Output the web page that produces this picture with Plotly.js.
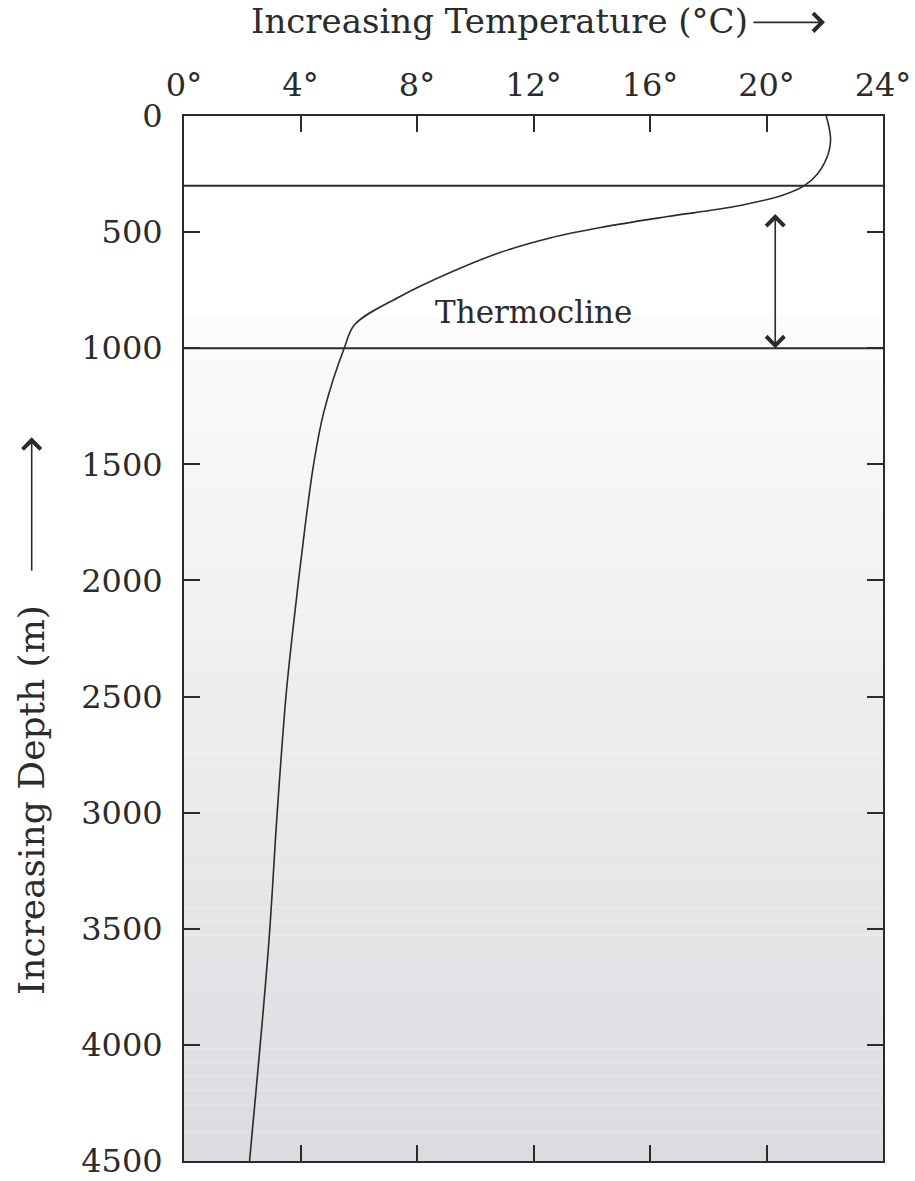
<!DOCTYPE html>
<html>
<head>
<meta charset="utf-8">
<script src="https://cdn.plot.ly/plotly-3.0.1.min.js"></script>
<style>
  html, body { margin: 0; padding: 0; background: #ffffff; }
  #chart { width: 915px; height: 1181px; }
</style>
</head>
<body>
<div id="chart"></div>
<script>
// ---- data ----
const depths = [0, 50, 100, 150, 200, 250, 300, 339, 390, 433, 480, 524, 588, 674, 777, 897, 1000, 1275, 1500, 1775, 2200, 2500, 3000, 3580, 4500];
const temps  = [22.05, 22.15, 22.2, 22.15, 22.0, 21.75, 21.3, 20.6, 18.9, 16.6, 14.3, 12.6, 10.85, 9.14, 7.42, 5.87, 5.5, 4.8, 4.45, 4.15, 3.75, 3.5, 3.2, 2.9, 2.25];

const tempTicks = [0, 4, 8, 12, 16, 20, 24];
const tempTickText = ['0°', '4°', '8°', '12°', '16°', '20°', '24°'];
const depthTicks = [0, 500, 1000, 1500, 2000, 2500, 3000, 3500, 4000, 4500];
const layerBounds = [300, 1000];           // horizontal boundary lines
const thermoclineArrow = {temp: 20.3, top: 416, bottom: 1000};
const thermoclineLabel = {temp: 12.0, depth: 845, text: 'Thermocline'};

const xTitle = 'Increasing Temperature (°C)';
const yTitle = 'Increasing Depth (m)';

// ---- styling ----
const INK = '#2b2b2b';
const FONT = 'DejaVu Serif, Liberation Serif, serif';
const X_RANGE = [0, 24];
const Y_MAX = 4500;
const GRAD_START = 860, GRAD_STEPS = 60;

function lerp(a, b, t) { return Math.round(a + (b - a) * t); }
const shapes = [];
// background gradient (white -> light grey) below the thermocline
for (let i = 0; i < GRAD_STEPS; i++) {
  const y0 = GRAD_START + (Y_MAX - GRAD_START) * i / GRAD_STEPS;
  const y1 = GRAD_START + (Y_MAX - GRAD_START) * (i + 1) / GRAD_STEPS;
  const t = (i + 0.5) / GRAD_STEPS;
  const c = `rgb(${lerp(252, 219, t)},${lerp(252, 220, t)},${lerp(252, 223, t)})`;
  shapes.push({type: 'rect', xref: 'x', yref: 'y', x0: X_RANGE[0], x1: X_RANGE[1], y0: y0, y1: y1,
    fillcolor: c, line: {width: 0}, layer: 'below'});
}
layerBounds.forEach(d => shapes.push({type: 'line', xref: 'paper', yref: 'y', x0: 0, x1: 1, y0: d, y1: d,
  line: {color: INK, width: 2}}));

const traces = [{
  x: temps, y: depths, type: 'scatter', mode: 'lines',
  line: {color: INK, width: 1.6, shape: 'spline', smoothing: 1},
  hoverinfo: 'skip', showlegend: false
}];

const annotations = [
  {xref: 'paper', yref: 'paper', x: 0.452, y: 1.0905, xanchor: 'center', yanchor: 'middle',
   text: xTitle, showarrow: false, font: {family: FONT, size: 34, color: INK}},
  {xref: 'paper', yref: 'paper', x: 0.917, y: 1.0896, ax: -73, ay: 0, text: '', showarrow: true,
   arrowhead: 4, arrowsize: 2.2, arrowwidth: 1.6, arrowcolor: INK},
  {xref: 'paper', yref: 'paper', x: -0.2175, y: 0.3455, xanchor: 'center', yanchor: 'middle', textangle: -90,
   text: yTitle, showarrow: false, font: {family: FONT, size: 36, color: INK}},
  {xref: 'paper', yref: 'paper', x: -0.2179, y: 0.6925, ax: 0, ay: 135, text: '', showarrow: true,
   arrowhead: 4, arrowsize: 2.2, arrowwidth: 1.6, arrowcolor: INK},
  {xref: 'x', yref: 'y', x: thermoclineArrow.temp, y: thermoclineArrow.bottom,
   axref: 'x', ayref: 'y', ax: thermoclineArrow.temp, ay: thermoclineArrow.top,
   text: '', showarrow: true, arrowside: 'end+start', arrowhead: 4, startarrowhead: 4,
   arrowsize: 2.2, startarrowsize: 2.2, arrowwidth: 1.6, arrowcolor: INK, standoff: 0, startstandoff: 0},
  {xref: 'x', yref: 'y', x: thermoclineLabel.temp, y: thermoclineLabel.depth, text: thermoclineLabel.text,
   showarrow: false, xanchor: 'center', yanchor: 'middle', font: {family: FONT, size: 31, color: INK}}
];

const layout = {
  width: 915, height: 1181,
  margin: {l: 184, r: 32, t: 116, b: 20, pad: 0},
  paper_bgcolor: '#ffffff', plot_bgcolor: '#ffffff',
  font: {family: FONT, color: INK},
  showlegend: false,
  xaxis: {
    range: X_RANGE, side: 'top', tickmode: 'array', tickvals: tempTicks, ticktext: tempTickText,
    ticks: 'inside', ticklen: 16, tickwidth: 2, tickcolor: INK,
    showline: true, linecolor: INK, linewidth: 2, mirror: 'ticks',
    showgrid: false, zeroline: false, fixedrange: true, ticklabeloverflow: 'allow',
    tickfont: {family: FONT, size: 32, color: INK}, ticklabelstandoff: 5
  },
  yaxis: {
    range: [Y_MAX, 0], tickmode: 'array', tickvals: depthTicks,
    ticks: 'inside', ticklen: 16, tickwidth: 2, tickcolor: INK,
    showline: true, linecolor: INK, linewidth: 2, mirror: 'ticks',
    showgrid: false, zeroline: false, fixedrange: true, ticklabeloverflow: 'allow',
    tickfont: {family: FONT, size: 32, color: INK}, ticklabelstandoff: 13
  },
  shapes: shapes,
  annotations: annotations
};

Plotly.newPlot('chart', traces, layout, {displayModeBar: false, staticPlot: true});
</script>
</body>
</html>
